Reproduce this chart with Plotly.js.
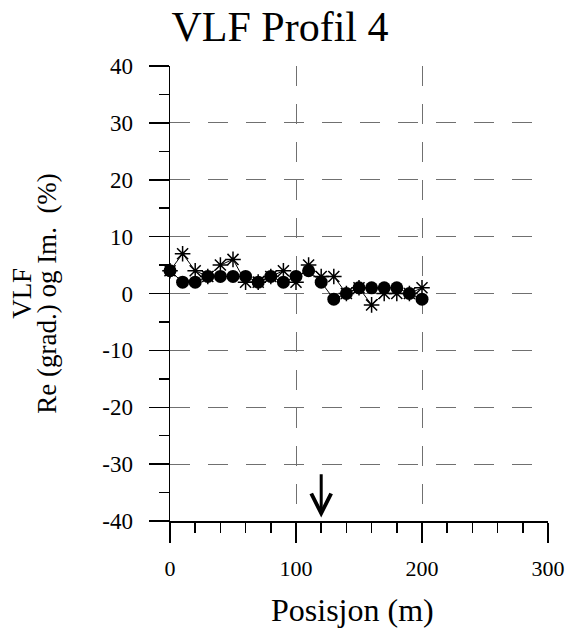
<!DOCTYPE html>
<html>
<head>
<meta charset="utf-8">
<script src="https://cdn.plot.ly/plotly-3.0.1.min.js"></script>
<style>html,body{margin:0;padding:0;background:#fff;}#chart{width:568px;height:634px;}</style>
</head>
<body>
<div id="chart"></div>
<script>
// Data
const posisjon = [0,10,20,30,40,50,60,70,80,90,100,110,120,130,140,150,160,170,180,190,200];
const seriesCircle = [4,2,2,3,3,3,3,2,3,2,3,4,2,-1,0,1,1,1,1,0,-1];
const seriesStar   = [4,7,4,3,5,6,2,2,3,4,2,5,3,3,0,1,-2,0,0,0,1];
const xTicks = [0,100,200,300];
const yTicks = [-40,-30,-20,-10,0,10,20,30,40];
const titleText = 'VLF Profil 4';
const xTitleText = 'Posisjon (m)';
const yTitleLine1 = 'VLF';
const yTitleLine2 = 'Re (grad.) og Im.\u00A0 (%)';
const arrowX = 120, arrowTipY = -39.4, arrowTailY = -31.5;

const font = 'Liberation Serif, Times New Roman, serif';
const gridDash = '20px,18px';

const traces = [
  {x: posisjon, y: seriesStar, mode: 'lines+markers', type: 'scatter',
   line: {color: '#000', width: 1},
   marker: {symbol: 'asterisk-open', size: 13, color: '#000', line: {color: '#000', width: 1.5}},
   cliponaxis: false},
  {x: posisjon, y: seriesCircle, mode: 'lines+markers', type: 'scatter',
   line: {color: '#000', width: 1},
   marker: {symbol: 'circle', size: 13, color: '#000'},
   cliponaxis: false}
];

const layout = {
  width: 568, height: 634,
  margin: {l: 170, r: 20, t: 66, b: 113},
  paper_bgcolor: '#fff', plot_bgcolor: '#fff',
  showlegend: false,
  font: {family: font, color: '#000'},
  title: {text: titleText, font: {family: font, size: 42, color: '#000'},
          x: 0.493, xanchor: 'center', y: 0.981, yanchor: 'top'},
  xaxis: {
    range: [0, 300], tickvals: xTicks, ticktext: xTicks.map(String),
    showline: true, linecolor: '#000', linewidth: 1.5,
    ticks: 'outside', ticklen: 20, tickwidth: 1.5, tickcolor: '#000',
    ticklabelstandoff: 7,
    tickfont: {family: font, size: 22, color: '#000'},
    showgrid: true, gridcolor: '#707070', gridwidth: 1, griddash: gridDash,
    zeroline: false,
    minor: {dtick: 20, ticks: 'outside', ticklen: 10, tickwidth: 1.5, tickcolor: '#000', showgrid: false},
    fixedrange: true
  },
  yaxis: {
    range: [-40, 40], tickvals: yTicks, ticktext: yTicks.map(String),
    showline: true, linecolor: '#000', linewidth: 1.5,
    ticks: 'outside', ticklen: 20, tickwidth: 1.5, tickcolor: '#000',
    ticklabelstandoff: 11,
    tickfont: {family: font, size: 23, color: '#000'},
    showgrid: true, gridcolor: '#707070', gridwidth: 1, griddash: gridDash,
    zeroline: false,
    minor: {dtick: 5, ticks: 'outside', ticklen: 10, tickwidth: 1.5, tickcolor: '#000', showgrid: false},
    fixedrange: true
  },
  annotations: [
    {x: arrowX, y: arrowTipY, ax: arrowX, ay: arrowTailY, axref: 'x', ayref: 'y',
     xref: 'x', yref: 'y', text: '', showarrow: true,
     arrowhead: 5, arrowsize: 1.3, arrowwidth: 3, arrowcolor: '#000'},
    {xref: 'paper', yref: 'paper', x: 0.484, y: -0.195, xanchor: 'center', yanchor: 'middle',
     text: xTitleText, showarrow: false, font: {family: font, size: 32, color: '#000'}},
    {xref: 'paper', yref: 'paper', x: -0.392, y: 0.501, xanchor: 'center', yanchor: 'middle',
     text: yTitleLine1, textangle: -90, showarrow: false, font: {family: font, size: 27, color: '#000'}},
    {xref: 'paper', yref: 'paper', x: -0.326, y: 0.501, xanchor: 'center', yanchor: 'middle',
     text: yTitleLine2, textangle: -90, showarrow: false, font: {family: font, size: 27, color: '#000'}}
  ]
};

Plotly.newPlot('chart', traces, layout, {displayModeBar: false, staticPlot: true});
</script>
</body>
</html>
